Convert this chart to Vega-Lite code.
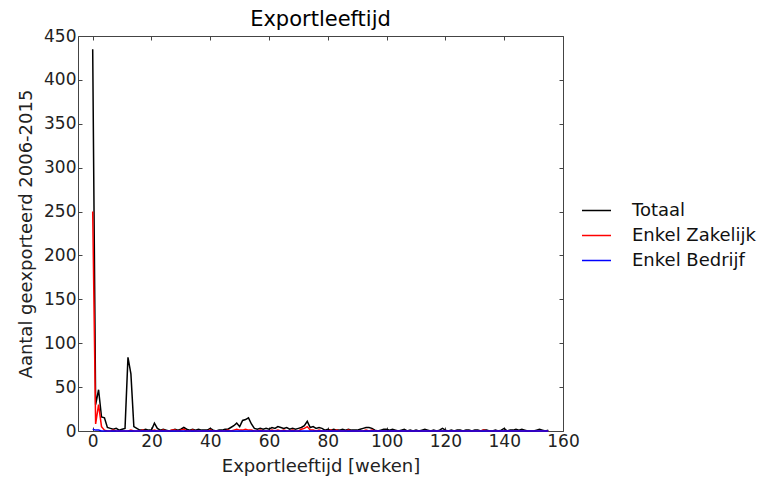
{
  "$schema": "https://vega.github.io/schema/vega-lite/v6.json",
  "width": 485,
  "height": 395,
  "autosize": {"type": "none"},
  "padding": {"left": 78, "top": 36, "right": 199, "bottom": 48},
  "background": "white",
  "config": {
    "font": "DejaVu Sans",
    "view": {"stroke": "#444", "strokeWidth": 1},
    "axis": {"grid": false, "domain": false, "tickColor": "#444", "tickSize": -4, "labelFontSize": 17, "labelColor": "#222", "titleFontSize": 18, "titleFontWeight": "normal", "titleColor": "#222", "labelFlush": false, "labelOverlap": false}
  },
  "title": {"text": "Exportleeftijd", "fontSize": 21, "fontWeight": "normal", "color": "#000", "offset": -3, "font": "DejaVu Sans"},
  "data": {"values": [
    {"w":0,"T":435,"Z":250,"B":2},{"w":1,"T":30,"Z":8,"B":1},{"w":2,"T":47,"Z":30,"B":1},{"w":3,"T":16,"Z":5,"B":0},{"w":4,"T":15,"Z":1,"B":0},
    {"w":5,"T":4,"Z":0,"B":0},{"w":6,"T":3,"Z":0,"B":0},{"w":7,"T":2,"Z":1,"B":0},{"w":8,"T":3,"Z":0,"B":0},{"w":9,"T":1,"Z":0,"B":0},
    {"w":10,"T":2,"Z":0,"B":0},{"w":11,"T":3,"Z":0,"B":0},{"w":12,"T":84,"Z":0,"B":0},{"w":13,"T":65,"Z":1,"B":0},{"w":14,"T":5,"Z":0,"B":0},
    {"w":15,"T":3,"Z":0,"B":0},{"w":16,"T":1,"Z":0,"B":0},{"w":17,"T":1,"Z":1,"B":0},{"w":18,"T":2,"Z":0,"B":0},{"w":19,"T":1,"Z":0,"B":0},
    {"w":20,"T":1,"Z":0,"B":0},{"w":21,"T":9,"Z":1,"B":0},{"w":22,"T":3,"Z":0,"B":0},{"w":23,"T":1,"Z":0,"B":0},{"w":24,"T":2,"Z":1,"B":0},
    {"w":25,"T":1,"Z":0,"B":0},{"w":26,"T":0,"Z":0,"B":0},{"w":27,"T":1,"Z":1,"B":0},{"w":28,"T":2,"Z":1,"B":0},{"w":29,"T":1,"Z":0,"B":0},
    {"w":30,"T":2,"Z":1,"B":0},{"w":31,"T":4,"Z":2,"B":0},{"w":32,"T":2,"Z":0,"B":0},{"w":33,"T":1,"Z":0,"B":0},{"w":34,"T":2,"Z":1,"B":0},
    {"w":35,"T":1,"Z":0,"B":0},{"w":36,"T":2,"Z":0,"B":0},{"w":37,"T":1,"Z":0,"B":0},{"w":38,"T":1,"Z":0,"B":0},{"w":39,"T":1,"Z":0,"B":0},
    {"w":40,"T":3,"Z":1,"B":0},{"w":41,"T":1,"Z":0,"B":0},{"w":42,"T":0,"Z":0,"B":0},{"w":43,"T":1,"Z":0,"B":0},{"w":44,"T":1,"Z":0,"B":0},
    {"w":45,"T":2,"Z":0,"B":0},{"w":46,"T":2,"Z":1,"B":0},{"w":47,"T":4,"Z":0,"B":0},{"w":48,"T":6,"Z":1,"B":0},{"w":49,"T":9,"Z":2,"B":0},
    {"w":50,"T":5,"Z":1,"B":0},{"w":51,"T":12,"Z":1,"B":0},{"w":52,"T":13,"Z":2,"B":0},{"w":53,"T":15,"Z":1,"B":0},{"w":54,"T":8,"Z":1,"B":0},
    {"w":55,"T":3,"Z":0,"B":0},{"w":56,"T":2,"Z":0,"B":0},{"w":57,"T":3,"Z":1,"B":0},{"w":58,"T":2,"Z":0,"B":0},{"w":59,"T":3,"Z":0,"B":0},
    {"w":60,"T":2,"Z":0,"B":0},{"w":61,"T":4,"Z":1,"B":0},{"w":62,"T":3,"Z":0,"B":0},{"w":63,"T":5,"Z":1,"B":0},{"w":64,"T":4,"Z":0,"B":0},
    {"w":65,"T":3,"Z":1,"B":0},{"w":66,"T":4,"Z":0,"B":0},{"w":67,"T":2,"Z":0,"B":0},{"w":68,"T":3,"Z":1,"B":0},{"w":69,"T":2,"Z":0,"B":0},
    {"w":70,"T":3,"Z":0,"B":0},{"w":71,"T":4,"Z":2,"B":0},{"w":72,"T":6,"Z":3,"B":0},{"w":73,"T":11,"Z":5,"B":0},{"w":74,"T":4,"Z":1,"B":0},
    {"w":75,"T":5,"Z":1,"B":0},{"w":76,"T":3,"Z":0,"B":0},{"w":77,"T":4,"Z":1,"B":0},{"w":78,"T":3,"Z":0,"B":0},{"w":79,"T":1,"Z":0,"B":0},
    {"w":80,"T":2,"Z":0,"B":0},{"w":81,"T":1,"Z":1,"B":0},{"w":82,"T":2,"Z":0,"B":0},{"w":83,"T":1,"Z":1,"B":0},{"w":84,"T":1,"Z":0,"B":0},
    {"w":85,"T":2,"Z":0,"B":0},{"w":86,"T":1,"Z":0,"B":0},{"w":87,"T":2,"Z":1,"B":0},{"w":88,"T":1,"Z":0,"B":0},{"w":89,"T":1,"Z":0,"B":0},
    {"w":90,"T":1,"Z":0,"B":0},{"w":91,"T":2,"Z":0,"B":0},{"w":92,"T":3,"Z":0,"B":0},{"w":93,"T":4,"Z":1,"B":0},{"w":94,"T":4,"Z":0,"B":0},
    {"w":95,"T":3,"Z":1,"B":0},{"w":96,"T":1,"Z":0,"B":0},{"w":97,"T":0,"Z":0,"B":0},{"w":98,"T":1,"Z":0,"B":0},{"w":99,"T":2,"Z":0,"B":0},
    {"w":100,"T":2,"Z":0,"B":0},{"w":101,"T":1,"Z":0,"B":0},{"w":102,"T":2,"Z":0,"B":0},{"w":103,"T":1,"Z":0,"B":0},{"w":104,"T":0,"Z":0,"B":0},
    {"w":105,"T":1,"Z":0,"B":0},{"w":106,"T":2,"Z":0,"B":0},{"w":107,"T":0,"Z":0,"B":0},{"w":108,"T":1,"Z":0,"B":0},{"w":109,"T":0,"Z":0,"B":0},
    {"w":110,"T":1,"Z":0,"B":0},{"w":111,"T":0,"Z":0,"B":0},{"w":112,"T":1,"Z":0,"B":0},{"w":113,"T":2,"Z":0,"B":0},{"w":114,"T":1,"Z":0,"B":0},
    {"w":115,"T":0,"Z":0,"B":0},{"w":116,"T":1,"Z":0,"B":0},{"w":117,"T":0,"Z":0,"B":0},{"w":118,"T":1,"Z":0,"B":0},{"w":119,"T":3,"Z":0,"B":0},
    {"w":120,"T":1,"Z":0,"B":0},{"w":121,"T":0,"Z":0,"B":0},{"w":122,"T":1,"Z":0,"B":0},{"w":123,"T":0,"Z":0,"B":0},{"w":124,"T":1,"Z":0,"B":0},
    {"w":125,"T":1,"Z":0,"B":0},{"w":126,"T":0,"Z":0,"B":0},{"w":127,"T":1,"Z":0,"B":0},{"w":128,"T":1,"Z":0,"B":0},{"w":129,"T":0,"Z":0,"B":0},
    {"w":130,"T":1,"Z":0,"B":0},{"w":131,"T":1,"Z":0,"B":0},{"w":132,"T":0,"Z":0,"B":0},{"w":133,"T":1,"Z":1,"B":0},{"w":134,"T":1,"Z":0,"B":0},
    {"w":135,"T":0,"Z":0,"B":0},{"w":136,"T":0,"Z":0,"B":0},{"w":137,"T":1,"Z":0,"B":0},{"w":138,"T":0,"Z":0,"B":0},{"w":139,"T":1,"Z":0,"B":0},
    {"w":140,"T":3,"Z":0,"B":0},{"w":141,"T":0,"Z":0,"B":0},{"w":142,"T":1,"Z":0,"B":0},{"w":143,"T":1,"Z":0,"B":0},{"w":144,"T":2,"Z":0,"B":0},
    {"w":145,"T":1,"Z":0,"B":0},{"w":146,"T":2,"Z":0,"B":0},{"w":147,"T":1,"Z":0,"B":0},{"w":148,"T":0,"Z":0,"B":0},{"w":149,"T":0,"Z":0,"B":0},
    {"w":150,"T":0,"Z":0,"B":0},{"w":151,"T":1,"Z":0,"B":0},{"w":152,"T":2,"Z":0,"B":0},{"w":153,"T":1,"Z":0,"B":0},{"w":154,"T":0,"Z":0,"B":0},
    {"w":155,"T":1,"Z":0,"B":0}
  ]},
  "transform": [
    {"fold": ["T", "Z", "B"], "as": ["key", "n"]},
    {"lookup": "key", "from": {"data": {"values": [{"key": "T", "serie": "Totaal", "o": 0}, {"key": "Z", "serie": "Enkel Zakelijk", "o": 1}, {"key": "B", "serie": "Enkel Bedrijf", "o": 2}]}, "key": "key", "fields": ["serie", "o"]}}
  ],
  "resolve": {"axis": {"x": "independent", "y": "independent"}},
  "layer": [
    {
      "mark": {"type": "line", "strokeWidth": 1.5, "interpolate": "linear"},
      "encoding": {
        "x": {"field": "w", "type": "quantitative", "scale": {"domain": [-5, 160], "nice": false, "zero": false}, "axis": {"orient": "bottom", "values": [0, 20, 40, 60, 80, 100, 120, 140, 160], "title": "Exportleeftijd [weken]", "labelPadding": 6, "titlePadding": 8}},
        "y": {"field": "n", "type": "quantitative", "scale": {"domain": [0, 450], "nice": false}, "axis": {"orient": "left", "values": [0, 50, 100, 150, 200, 250, 300, 350, 400, 450], "title": "Aantal geexporteerd 2006-2015", "labelPadding": 6, "titlePadding": 8}},
        "color": {"field": "serie", "type": "nominal", "sort": ["Totaal", "Enkel Zakelijk", "Enkel Bedrijf"], "scale": {"domain": ["Totaal", "Enkel Zakelijk", "Enkel Bedrijf"], "range": ["#000000", "#ff0000", "#0000ff"]},
          "legend": {"title": null, "orient": "none", "legendX": 503, "legendY": 159, "symbolType": "stroke", "symbolSize": 841, "symbolStrokeWidth": 1.5, "labelFontSize": 18, "labelColor": "#111", "labelOffset": 20, "rowPadding": -1, "labelFont": "DejaVu Sans"}},
        "order": {"field": "o", "type": "quantitative"},
        "detail": {"field": "serie"}
      }
    },
    {
      "mark": {"type": "line", "opacity": 0},
      "encoding": {
        "x": {"field": "w", "type": "quantitative", "axis": {"orient": "top", "labels": false, "title": null, "values": [0, 20, 40, 60, 80, 100, 120, 140, 160]}},
        "y": {"field": "n", "type": "quantitative", "axis": {"orient": "right", "labels": false, "title": null, "values": [0, 50, 100, 150, 200, 250, 300, 350, 400, 450]}},
        "detail": {"field": "serie"}
      }
    }
  ]
}
